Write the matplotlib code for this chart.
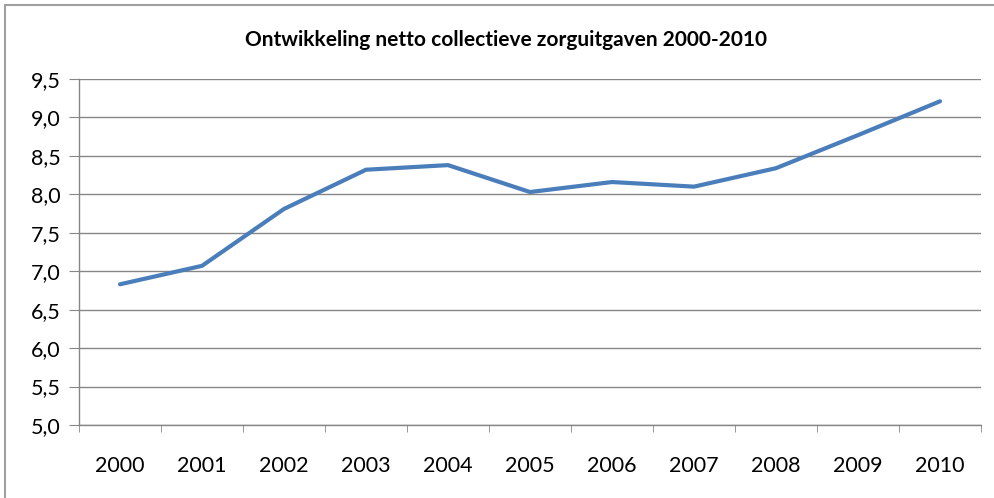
import matplotlib.pyplot as plt
import numpy as np
from matplotlib.patches import Rectangle

# Data
years = ['2000', '2001', '2002', '2003', '2004', '2005', '2006', '2007', '2008', '2009', '2010']
values = [6.83, 7.07, 7.81, 8.32, 8.38, 8.03, 8.16, 8.10, 8.34, 8.77, 9.21]
y_ticks = [5.0, 5.5, 6.0, 6.5, 7.0, 7.5, 8.0, 8.5, 9.0, 9.5]

plt.rcParams['font.family'] = ['Lato', 'DejaVu Sans']
grey = '#868686'

fig = plt.figure(figsize=(9.94, 4.98), dpi=100)
ax = fig.add_axes([79 / 994, 1 - 425 / 498, (981 - 79) / 994, (425 - 79) / 498])

# outer chart frame
fig.patches.append(Rectangle((5 / 994, -0.1), 1.2, 1 - 5 / 498 + 0.1, transform=fig.transFigure,
                             fill=False, edgecolor='#A0A0A0', linewidth=1.5))

x = np.arange(len(years))
ax.plot(x, values, color='#4A7EBB', linewidth=3, solid_capstyle='round', zorder=3)

ax.set_xlim(-0.5, len(years) - 0.5)
ax.set_ylim(5.0, 9.5)
ax.set_yticks(y_ticks)
ax.set_yticklabels([f'{v:.1f}'.replace('.', ',') for v in y_ticks])
ax.set_xticks(x)
ax.set_xticklabels(years)
ax.set_xticks(np.arange(-0.5, len(years)), minor=True)

ax.yaxis.grid(True, color=grey, linewidth=1)
ax.set_axisbelow(True)
for side in ['top', 'right']:
    ax.spines[side].set_visible(False)
for side in ['left', 'bottom']:
    ax.spines[side].set_color(grey)
    ax.spines[side].set_linewidth(1)

ax.tick_params(axis='y', length=7, color=grey, labelsize=15.5, pad=6)
ax.tick_params(axis='x', which='major', length=0, labelsize=15.5, pad=22)
ax.tick_params(axis='x', which='minor', length=5, color=grey)

fig.text(506 / 994, 1 - 40 / 498, 'Ontwikkeling netto collectieve zorguitgaven 2000-2010',
         ha='center', va='center', fontsize=15, fontweight='bold')

fig.savefig('out.png', dpi=100)
